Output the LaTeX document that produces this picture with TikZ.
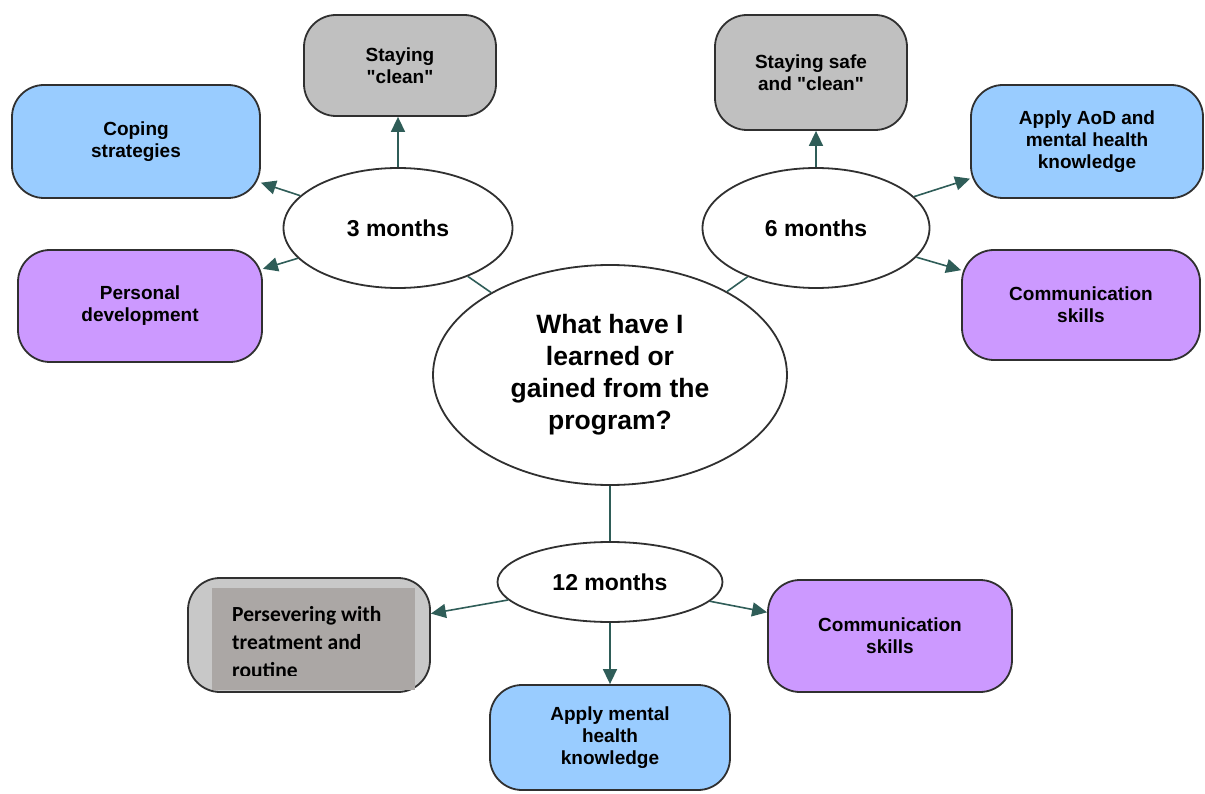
\documentclass[tikz,border=0pt]{standalone}
\usepackage{fontspec}
\setmainfont{Liberation Sans}
\newfontfamily\pastefont{Carlito}
\usetikzlibrary{arrows.meta,shapes.geometric}

\definecolor{boxblue}{HTML}{99CCFF}
\definecolor{boxpurple}{HTML}{CC99FF}
\definecolor{boxgray}{HTML}{C0C0C0}
\definecolor{boxlight}{HTML}{C8C8C8}
\definecolor{pastegray}{HTML}{ABA7A5}
\definecolor{arrowteal}{HTML}{2F5D58}
\definecolor{edgegray}{HTML}{303030}

\begin{document}
\begin{tikzpicture}[x=1pt,y=-1pt,
  topic/.style={ellipse, draw=edgegray, line width=1.8pt, fill=white, inner sep=0pt,
    align=center, font=\bfseries\fontsize{23}{27}\selectfont},
  theme/.style={rectangle, rounded corners=32pt, draw=edgegray, line width=1.8pt,
    inner sep=0pt, align=center, font=\bfseries\fontsize{19}{22}\selectfont},
  link/.style={draw=arrowteal, line width=1.6pt},
  outcome/.style={link, -{Triangle[length=15pt,width=14pt]}}]
\useasboundingbox (0,0) rectangle (1205,794);

% centre question and the three follow-ups
\node[topic, minimum width=354, minimum height=220,
  font=\bfseries\fontsize{26.5}{32}\selectfont] (main) at (610,375)
  {What have I\\learned or\\gained from the\\program?};
\node[topic, minimum width=229, minimum height=120] (m3) at (398,228) {3 months};
\node[topic, minimum width=227, minimum height=120] (m6) at (816,228) {6 months};
\node[topic, minimum width=225, minimum height=80] (m12) at (610,582) {12 months};

% 3 months
\node[theme, fill=boxgray, minimum width=192, minimum height=101] (clean3) at (400,65.5)
  {Staying\\\textquotedbl clean\textquotedbl};
\node[theme, fill=boxblue, minimum width=248, minimum height=113] (cope) at (136,141.5)
  {Coping\\strategies};
\node[theme, fill=boxpurple, minimum width=244, minimum height=112] (pers) at (140,306)
  {Personal\\development};

% 6 months
\node[theme, fill=boxgray, minimum width=192, minimum height=115] (safe6) at (811,72.5)
  {Staying safe\\and \textquotedbl clean\textquotedbl};
\node[theme, fill=boxblue, minimum width=232, minimum height=113] (aod) at (1087,141.5)
  {Apply AoD and\\mental health\\knowledge};
\node[theme, fill=boxpurple, minimum width=238, minimum height=110] (comm6) at (1081,305)
  {Communication\\skills};

% 12 months
\node[theme, fill=boxlight, minimum width=242, minimum height=114] (pers12) at (309,635) {};
\node[fill=pastegray, minimum width=203, minimum height=102, inner sep=0pt] (note12) at (313.5,639) {};
\begin{scope}
  \clip (note12.north west) rectangle ([yshift=15pt]note12.south east);
  \node[anchor=north west, inner sep=0pt, align=left,
    font=\pastefont\bfseries\fontsize{21.5}{28}\selectfont] (note12txt) at (232,606)
    {Persevering with\\treatment and\\routine};
\end{scope}
\node[theme, fill=boxpurple, minimum width=244, minimum height=112] (comm12) at (890,636)
  {Communication\\skills};
\node[theme, fill=boxblue, minimum width=240, minimum height=105] (apply12) at (610,737.5)
  {Apply mental\\health\\knowledge};

% connectors
\draw[link] (main) -- (m3);
\draw[link] (main) -- (m6);
\draw[link] (main) -- (m12);
\draw[outcome] (m3.north) -- (m3.north |- clean3.south);
\draw[outcome] (m3) -- (cope);
\draw[outcome] (m3) -- (pers);
\draw[outcome] (m6.north) -- (m6.north |- safe6.south);
\draw[outcome] (m6) -- (aod);
\draw[outcome] (m6) -- (comm6);
\draw[outcome] (m12) -- (pers12);
\draw[outcome] (m12) -- (comm12);
\draw[outcome] (m12) -- (apply12);
\end{tikzpicture}
\end{document}
